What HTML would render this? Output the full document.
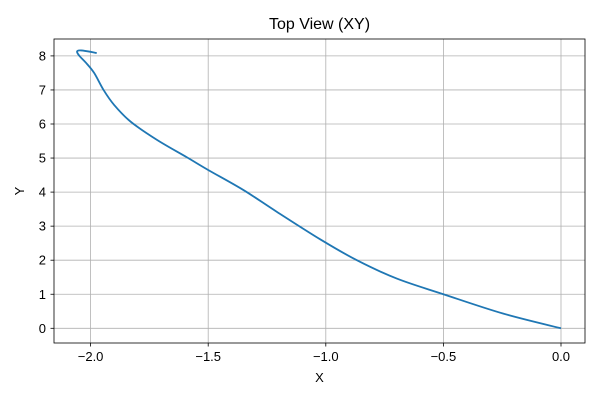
<!DOCTYPE html>
<html><head><meta charset="utf-8"><style>
body{margin:0;background:#fff;}
svg text{font-family:"Liberation Sans","DejaVu Sans",sans-serif;fill:#000;}
</style></head><body>
<svg id="chart" width="600" height="400" viewBox="0 0 600 400">
<rect width="600" height="400" fill="#fff"/>
<g id="grid"></g>
<g id="plot"></g>
<rect x="54" y="39" width="531" height="304" fill="none" stroke="#000" stroke-width="0.8"/>
<g id="ticks"></g>
<text x="319.5" y="29" font-size="16" text-anchor="middle">Top View (XY)</text>
<text x="319.5" y="382" font-size="13" text-anchor="middle">X</text>
<text x="24" y="191" font-size="13" text-anchor="middle" transform="rotate(-90 24 191)">Y</text>
</svg>
<script>
const xs=[0,-0.245,-0.5,-0.698,-0.868,-1.023,-1.208,-1.35,-1.5,-1.59,-1.717,-1.83,-1.90,-1.945,-1.985,-2.02,-2.045,-2.057,-2.055,-2.04,-2.0,-1.974];
const ys=[0,0.43,1.0,1.46,2.0,2.61,3.42,4.06,4.65,5.02,5.53,6.07,6.56,7.0,7.5,7.8,7.98,8.1,8.15,8.16,8.12,8.08];
const xTicks=[-2.0,-1.5,-1.0,-0.5,0.0];
const yTicks=[0,1,2,3,4,5,6,7,8];
const sx=v=>561+v*235.2;
const sy=v=>328.3-v*34.05;
const NS="http://www.w3.org/2000/svg";
const grid=document.getElementById('grid'),ticks=document.getElementById('ticks'),plot=document.getElementById('plot');
function mk(tag,attrs,parent){const e=document.createElementNS(NS,tag);for(const k in attrs)e.setAttribute(k,attrs[k]);parent.appendChild(e);return e;}
xTicks.forEach(t=>{const x=sx(t);
const g=mk('line',{x1:x,x2:x,y1:39,y2:343,stroke:'#b0b0b0','stroke-width':0.8},grid);


mk('line',{x1:x,x2:x,y1:343,y2:346.5,stroke:'#000','stroke-width':0.8},ticks);
const l=mk('text',{x:x,y:361,'font-size':13,'text-anchor':'middle'},ticks);l.textContent=(t<0?'\u2212':'')+Math.abs(t).toFixed(1);

});
yTicks.forEach(t=>{const y=sy(t);
const g=mk('line',{x1:54,x2:585,y1:y,y2:y,stroke:'#b0b0b0','stroke-width':0.8},grid);


mk('line',{x1:50.5,x2:54,y1:y,y2:y,stroke:'#000','stroke-width':0.8},ticks);
const l=mk('text',{x:46,y:y+4.5,'font-size':13,'text-anchor':'end'},ticks);l.textContent=t;

});
const P=xs.map((x,i)=>[sx(x),sy(ys[i])]);
let d='M'+P[0][0]+','+P[0][1];
for(let i=0;i<P.length-1;i++){const p0=P[Math.max(i-1,0)],p1=P[i],p2=P[i+1],p3=P[Math.min(i+2,P.length-1)];
d+=' C'+(p1[0]+(p2[0]-p0[0])/6)+','+(p1[1]+(p2[1]-p0[1])/6)+' '+(p2[0]-(p3[0]-p1[0])/6)+','+(p2[1]-(p3[1]-p1[1])/6)+' '+p2[0]+','+p2[1];}
const p=mk('path',{d:d,fill:'none',stroke:'#1f77b4','stroke-width':1.8,'stroke-linejoin':'round'},plot);


</script>
</body></html>
